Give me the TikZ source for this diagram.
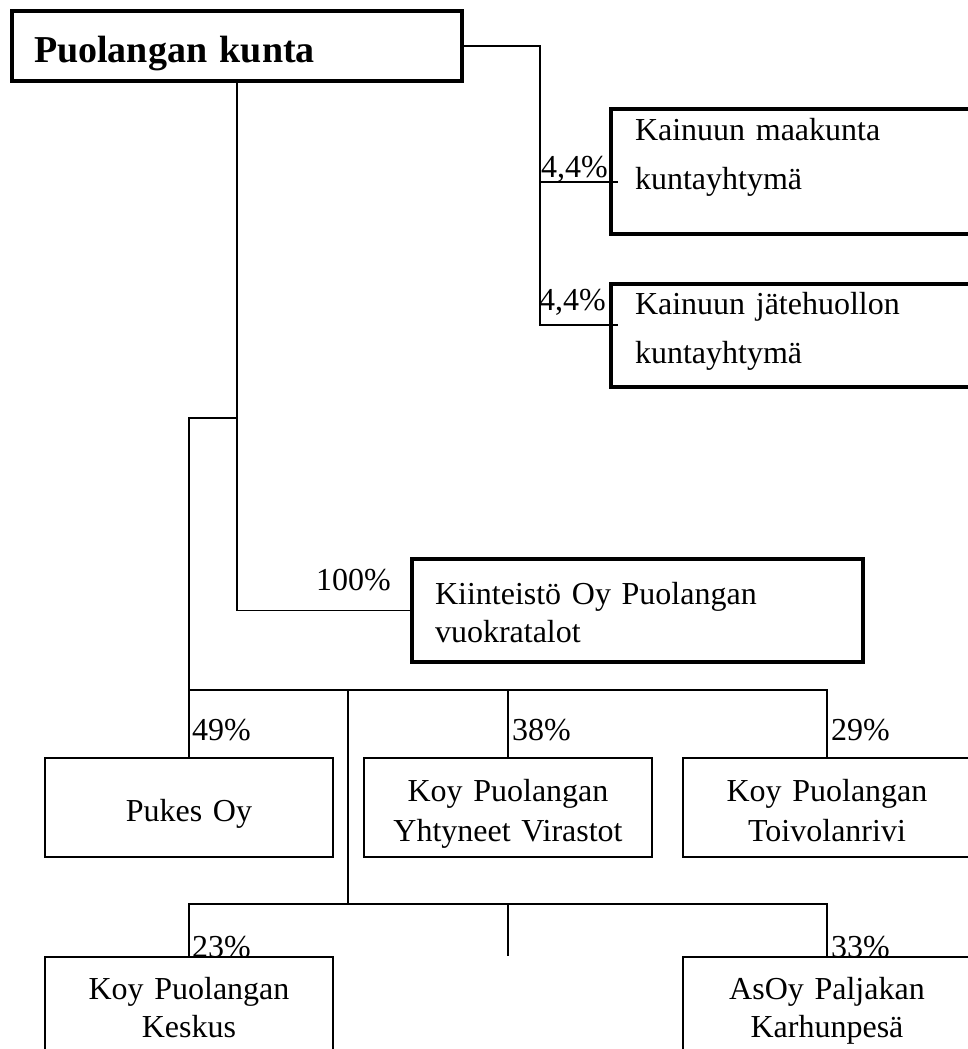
\documentclass[tikz,border=0pt]{standalone}
\usepackage{fontspec}
\setmainfont{Liberation Serif}
\usetikzlibrary{calc}

\newcommand{\orgfont}{\fontsize{32}{40}\selectfont}

\tikzset{
  conn/.style={line width=1.8pt},
  mainbox/.style={draw, line width=4pt, fill=white, anchor=north west, align=left, inner ysep=0pt},
  unitbox/.style={draw, line width=2pt, fill=white, anchor=north west, align=center,
                  text width=260pt, inner xsep=14pt, inner ysep=0pt},
  pct/.style={anchor=base west, inner sep=0pt, font=\orgfont},
}

\begin{document}
\begin{tikzpicture}[x=1pt,y=-1pt]

\path[use as bounding box] (0,0) rectangle (968,1049);
\clip (0,0) rectangle (968,1049);

% The shares
\node[pct] (pKmk) at (541,177) {4,4\%};
\node[pct] (pKjh) at (539,310) {4,4\%};
\node[pct] (pVuok) at (316,590) {100\%};
\node[pct] (pPukes) at (192,740) {49\%};
\node[pct] (pYv) at (512,740) {38\%};
\node[pct] (pToiv) at (831,740) {29\%};
\node[pct] (pKesk) at (192,957) {23\%};
\node[pct] (pKarh) at (831,957) {33\%};

% The owner and the joint authorities
\node[mainbox, text width=406pt, inner xsep=22pt, text height=52pt, text depth=18pt,
      font=\fontsize{38}{46}\selectfont\bfseries] (kunta) at (10,9) {Puolangan kunta};
\node[mainbox, text width=400pt, inner xsep=24pt, text height=31pt, text depth=94pt,
      font=\fontsize{32}{49}\selectfont] (kmk) at (609,107) {Kainuun maakunta\\kuntayhtymä};
\node[mainbox, text width=400pt, inner xsep=24pt, text height=30pt, text depth=73pt,
      font=\fontsize{32}{49}\selectfont] (kjh) at (609,282) {Kainuun jätehuollon\\kuntayhtymä};
\node[mainbox, text width=405pt, inner xsep=23pt, text height=45pt, text depth=58pt,
      font=\fontsize{32}{38}\selectfont] (vuok) at (410,557) {Kiinteistö Oy Puolangan\\vuokratalot};

% The companies
\node[unitbox, text height=63pt, text depth=36pt, font=\orgfont] (pukes) at (44,757) {Pukes Oy};
\node[unitbox, text height=43pt, text depth=56pt, font=\orgfont] (yv) at (363,757) {Koy Puolangan\\Yhtyneet Virastot};
\node[unitbox, text height=43pt, text depth=56pt, font=\orgfont] (toiv) at (682,757) {Koy Puolangan\\Toivolanrivi};
\node[unitbox, text height=42pt, text depth=60pt, font=\fontsize{32}{38}\selectfont] (kesk) at (44,956) {Koy Puolangan\\Keskus};
\node[unitbox, text height=42pt, text depth=60pt, font=\fontsize{32}{38}\selectfont] (karh) at (682,956) {AsOy Paljakan\\Karhunpesä};

% Joints of the lines
\coordinate (jKmk) at (540,182);
\coordinate (jKjh) at (540,325);
\coordinate (jL) at (236,418);
\coordinate (busA) at (189,690);
\coordinate (busB) at (348,904);

% The lines
\draw[conn] (kunta.east) -| (jKjh) -- ($(jKjh -| kjh.west)+(9,0)$);
\draw[conn] (jKmk) -- ($(jKmk -| kmk.west)+(9,0)$);
\draw[conn] (kunta.south) |- (vuok.west);
\draw[conn] (jL) -| (busA) -- (pukes.north);
\draw[conn] (busA) -- (busA -| toiv.north) -- (toiv.north);
\draw[conn] (busA -| yv.north) -- (yv.north);
\draw[conn] (busA -| busB) -- (busB);
\draw[conn] (kesk.north) |- (busB) -| (karh.north);
\draw[conn] (busB -| yv.north) -- (yv.north |- kesk.north);

\end{tikzpicture}
\end{document}
